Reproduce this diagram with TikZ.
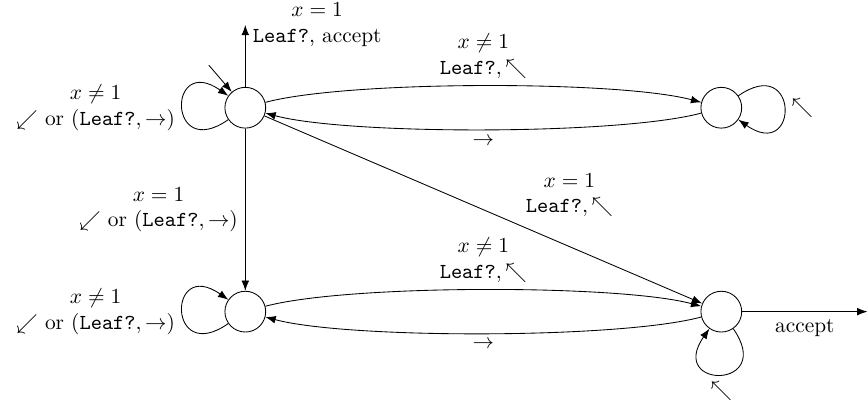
\documentclass[tikz,border=0pt]{standalone}
\usepackage{amsmath,amssymb}
\usepackage{tikz}
\usetikzlibrary{arrows.meta}

\begin{document}
\begin{tikzpicture}[>=Latex,
  state/.style={circle,draw,minimum size=0.67cm,inner sep=0pt},
  lbl/.style={align=center},
  bendy/.style={bend left=15,looseness=0.5},
  every loop/.style={min distance=1.2cm}]
\useasboundingbox (0,0) rectangle (14.26,6.62);
\node[state] (A) at (4.03,4.85) {};
\node[state] (B) at (11.85,4.85) {};
\node[state] (C) at (4.03,1.50) {};
\node[state] (D) at (11.85,1.50) {};
\coordinate (init) at (3.43,5.55);
\coordinate (top) at (4.03,6.21);
\coordinate (acc) at (14.25,1.50);
\draw[->] (init) -- (A);
\draw[->] (A) -- (top) node[right,lbl]{$x=1$\\$\texttt{Leaf?}$, accept};
\draw[->] (A) to[out=215,in=145,loop] node[left,lbl]{$x\neq1$\\$\swarrow$ or $(\texttt{Leaf?},\rightarrow)$} (A);
\draw[->] (A) to[bendy] node[above,lbl]{$x\neq1$\\$\texttt{Leaf?},\nwarrow$} (B);
\draw[->] (B) to[bendy] node[below]{$\rightarrow$} (A);
\draw[->] (B) to[out=35,in=-35,loop] node[right]{$\nwarrow$} (B);
\draw[->] (A) -- node[left,lbl]{$x=1$\\$\swarrow$ or $(\texttt{Leaf?},\rightarrow)$} (C);
\draw[->] (A) -- node[pos=0.58,above right,lbl]{$x=1$\\$\texttt{Leaf?},\nwarrow$} (D);
\draw[->] (C) to[out=215,in=145,loop] node[left,lbl]{$x\neq1$\\$\swarrow$ or $(\texttt{Leaf?},\rightarrow)$} (C);
\draw[->] (C) to[bendy] node[above,lbl]{$x\neq1$\\$\texttt{Leaf?},\nwarrow$} (D);
\draw[->] (D) to[bendy] node[below]{$\rightarrow$} (C);
\draw[->] (D) to[out=-55,in=-125,loop] node[below]{$\nwarrow$} (D);
\draw[->] (D) -- node[below]{accept} (acc);
\end{tikzpicture}
\end{document}
